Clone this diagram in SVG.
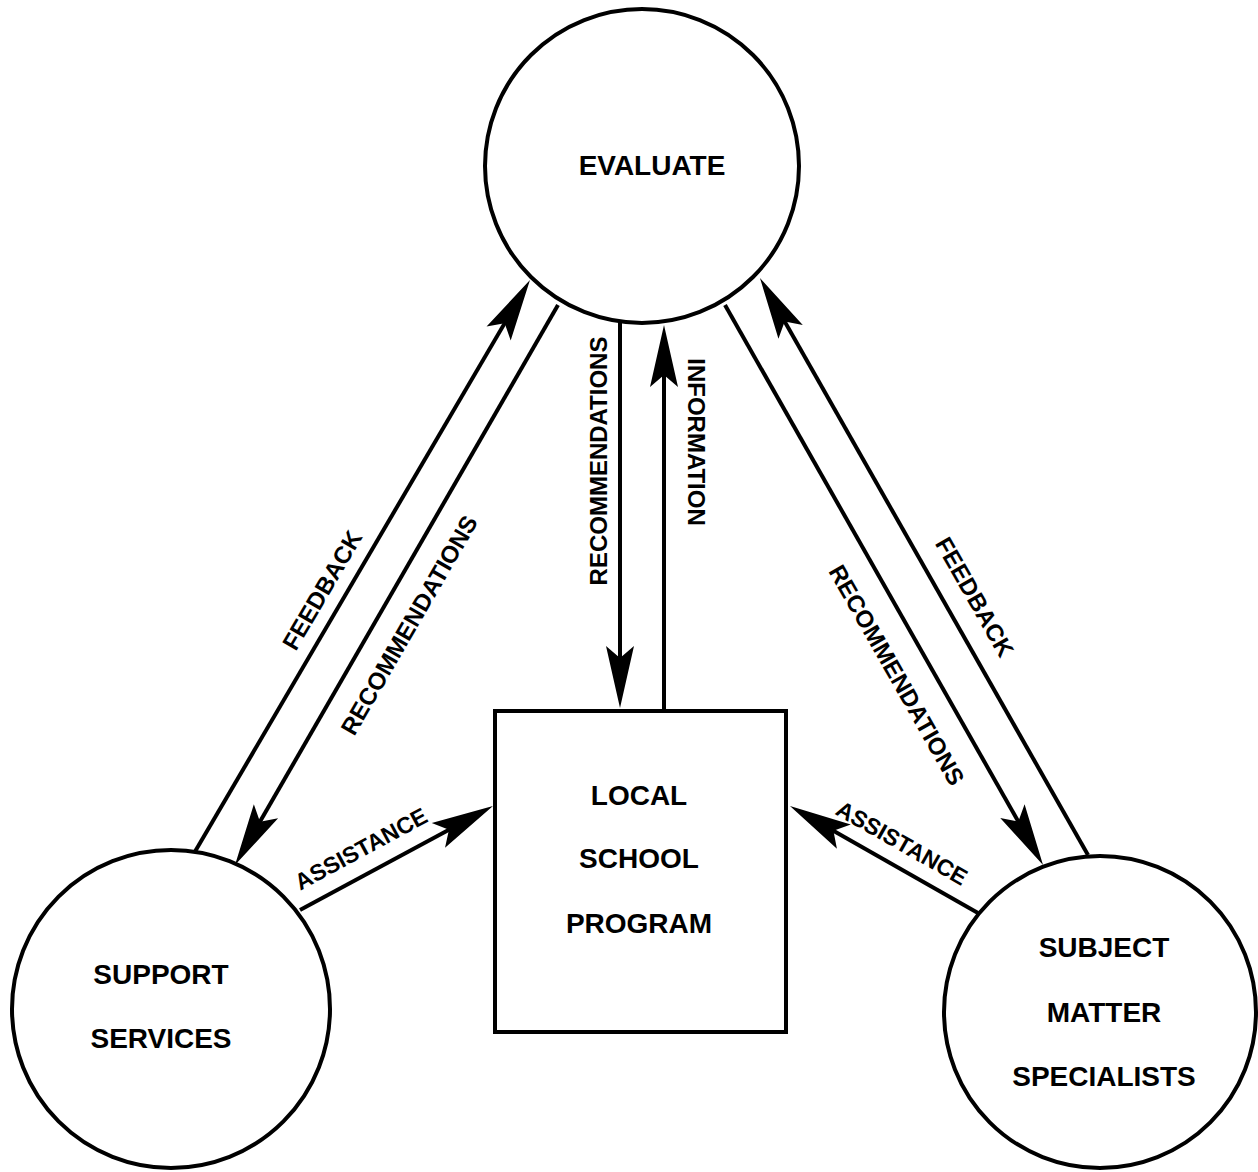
<svg xmlns="http://www.w3.org/2000/svg" width="1258" height="1172" viewBox="0 0 1258 1172">
<style>
.shape{fill:#fff;stroke:#000;stroke-width:4}
.conn{fill:none;stroke:#000;stroke-width:4}
.node{font-family:"Liberation Sans",Arial,sans-serif;font-weight:bold;font-size:28px;fill:#000;text-anchor:middle}
.lbl{font-family:"Liberation Sans",Arial,sans-serif;font-weight:bold;font-size:24px;fill:#000;text-anchor:middle}
.lbl2{font-family:"Liberation Sans",Arial,sans-serif;font-weight:bold;font-size:23px;fill:#000;text-anchor:middle}
</style>
<defs>
<marker id="arr" markerUnits="userSpaceOnUse" markerWidth="80" markerHeight="40" refX="0" refY="0" orient="auto" overflow="visible">
<path d="M12,0 L-50,-14 L-38,0 L-50,14 Z" fill="#000"/>
</marker>
</defs>
<rect width="1258" height="1172" fill="#fff"/>
<g id="connectors">
<line class="conn" x1="193" y1="855" x2="523.9" y2="290.4" marker-end="url(#arr)"/>
<line class="conn" x1="558" y1="305" x2="241" y2="854.6" marker-end="url(#arr)"/>
<line class="conn" x1="620" y1="322" x2="620" y2="696" marker-end="url(#arr)"/>
<line class="conn" x1="664" y1="711" x2="664" y2="337" marker-end="url(#arr)"/>
<line class="conn" x1="725" y1="305" x2="1037.1" y2="854.6" marker-end="url(#arr)"/>
<line class="conn" x1="1088" y1="855" x2="765.9" y2="288.4" marker-end="url(#arr)"/>
<line class="conn" x1="300" y1="910" x2="482.4" y2="811.7" marker-end="url(#arr)"/>
<line class="conn" x1="978" y1="913" x2="800.4" y2="811.9" marker-end="url(#arr)"/>
<text class="lbl" transform="translate(329.4,594.4) rotate(-59.6)">FEEDBACK</text>
<text class="lbl" transform="translate(416.4,629.3) rotate(-60)">RECOMMENDATIONS</text>
<text class="lbl" transform="translate(607,461) rotate(-90)">RECOMMENDATIONS</text>
<text class="lbl" transform="translate(687.5,442) rotate(90)">INFORMATION</text>
<text class="lbl" transform="translate(889.5,679.2) rotate(60.4)">RECOMMENDATIONS</text>
<text class="lbl" transform="translate(967.5,601.2) rotate(60.4)">FEEDBACK</text>
<text class="lbl2" transform="translate(364.8,855.9) rotate(-28.4)">ASSISTANCE</text>
<text class="lbl2" transform="translate(898,849.9) rotate(29.6)">ASSISTANCE</text>
</g>
<g id="evaluate">
<circle class="shape" cx="642" cy="166" r="157"/>
<text class="node" x="652" y="175">EVALUATE</text>
</g>
<g id="local-school-program">
<rect class="shape" x="495" y="711" width="291" height="321"/>
<text class="node" x="639" y="805">LOCAL</text>
<text class="node" x="639" y="868">SCHOOL</text>
<text class="node" x="639" y="933">PROGRAM</text>
</g>
<g id="support-services">
<circle class="shape" cx="171" cy="1009" r="159"/>
<text class="node" x="161" y="984">SUPPORT</text>
<text class="node" x="161" y="1048">SERVICES</text>
</g>
<g id="subject-matter-specialists">
<circle class="shape" cx="1100" cy="1012" r="156"/>
<text class="node" x="1104" y="957">SUBJECT</text>
<text class="node" x="1104" y="1022">MATTER</text>
<text class="node" x="1104" y="1086">SPECIALISTS</text>
</g>
</svg>
